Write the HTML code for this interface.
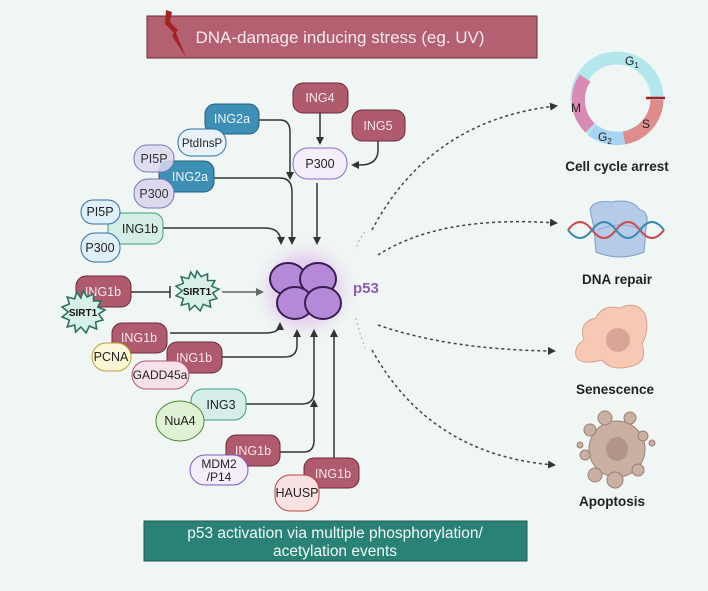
<!DOCTYPE html>
<html><head><meta charset="utf-8"><style>
html,body{margin:0;padding:0;background:#eff6f3;}
svg{display:block;font-family:"Liberation Sans",sans-serif;}
</style></head><body>
<svg width="708" height="591" viewBox="0 0 708 591" xmlns="http://www.w3.org/2000/svg">
<defs>
<radialGradient id="glow" cx="0.5" cy="0.5" r="0.5">
<stop offset="0" stop-color="#c98be0" stop-opacity="0.8"/>
<stop offset="0.6" stop-color="#dcb3ea" stop-opacity="0.45"/>
<stop offset="1" stop-color="#eff6f3" stop-opacity="0"/>
</radialGradient>
<marker id="ah" markerWidth="8" markerHeight="8" refX="6" refY="4" orient="auto" markerUnits="userSpaceOnUse">
<path d="M0,0 L8,4 L0,8 Z" fill="#333"/></marker>
<marker id="ahg" markerWidth="8" markerHeight="8" refX="6" refY="4" orient="auto" markerUnits="userSpaceOnUse">
<path d="M0,0 L8,4 L0,8 Z" fill="#666"/></marker>
</defs>
<rect width="708" height="591" fill="#eff6f3"/>

<rect x="147" y="16" width="390" height="42" fill="#b36071" stroke="#6d2a38" stroke-width="1"/>
<text x="340" y="43" font-size="17" fill="#f6e9ec" text-anchor="middle">DNA-damage inducing stress (eg. UV)</text>
<path d="M166,10 L172,12 L170,22 L178,30 L176,33 L186,57 L172,36 L174,33 L165,24 Z" fill="#a52222"/>

<circle cx="305" cy="290" r="55" fill="url(#glow)"/>

<g fill="none" stroke="#333" stroke-width="1.5">
<path d="M320,113 V143" marker-end="url(#ah)"/>
<path d="M378,141 V150 Q378,165 360,165 H353" marker-end="url(#ah)"/>
<path d="M259,120 H280 Q290,120 290,132 V178" marker-end="url(#ah)"/>
<path d="M214,178 H280 Q292,178 292,192 V243" marker-end="url(#ah)"/>
<path d="M317,183 V243" marker-end="url(#ah)"/>
<path d="M163,228 H265 Q281,228 281,243" marker-end="url(#ah)"/>
<path d="M131,292 H170"/><path d="M170,286 V298"/>
<path d="M170,333 H265 Q280,333 280,324" marker-end="url(#ah)"/>
<path d="M222,357 H285 Q297,357 297,345 V331" marker-end="url(#ah)"/>
<path d="M246,404 H302 Q314,404 314,392 V331" marker-end="url(#ah)"/>
<path d="M280,452 H304 Q314,452 314,440 V401" marker-end="url(#ah)"/>
<path d="M334,458 V331" marker-end="url(#ah)"/>
</g>
<path d="M222,292 H262" stroke="#666" stroke-width="1.5" fill="none" marker-end="url(#ahg)"/>

<g fill="none" stroke="#444" stroke-width="1.5" stroke-dasharray="3,3">
<path d="M372,230 Q430,120 556,106" marker-end="url(#ah)"/>
<path d="M378,255 Q440,215 556,223" marker-end="url(#ah)"/>
<path d="M378,325 Q450,350 554,351" marker-end="url(#ah)"/>
<path d="M372,350 Q430,455 554,465" marker-end="url(#ah)"/>
</g>
<g fill="none" stroke="#aaa" stroke-width="1" stroke-dasharray="2,3">
<path d="M365,232 Q358,240 356,250"/><path d="M356,318 Q360,335 365,348"/>
</g>

<g fill="#b48ad8" stroke="#3a1d52" stroke-width="2">
<ellipse cx="288" cy="279" rx="18" ry="16"/>
<ellipse cx="318" cy="279" rx="18" ry="16"/>
<ellipse cx="295" cy="303" rx="18" ry="16"/>
<ellipse cx="323" cy="303" rx="18" ry="16"/>
</g>
<text x="353" y="293" font-size="15" font-weight="bold" fill="#8e5cb5">p53</text>

<g font-size="12.5" text-anchor="middle">
<rect x="293" y="83" width="55" height="30" rx="10" fill="#b05a6e" stroke="#6d2a38"/>
<text x="320" y="102" fill="#f6e6ea">ING4</text>
<rect x="352" y="110" width="53" height="31" rx="10" fill="#b05a6e" stroke="#6d2a38"/>
<text x="378" y="130" fill="#f6e6ea">ING5</text>
<rect x="293" y="148" width="54" height="31" rx="15" fill="#f4eefb" stroke="#8d6bbd"/>
<text x="320" y="168" fill="#222">P300</text>

<rect x="205" y="104" width="54" height="30" rx="10" fill="#3e8fb5" stroke="#245f7e"/>
<text x="232" y="123" fill="#eaf4fa">ING2a</text>
<rect x="178" y="129" width="48" height="27" rx="13" fill="#e7f2fb" stroke="#2f6fa0"/>
<text x="202" y="147" fill="#222" font-size="11.5">PtdInsP</text>

<rect x="159" y="161" width="55" height="31" rx="10" fill="#3e8fb5" stroke="#245f7e"/>
<rect x="134" y="145" width="40" height="27" rx="13" fill="#dcd8ee" fill-opacity="0.85" stroke="#7d76b5"/>
<text x="154" y="163" fill="#333">PI5P</text>
<text x="190" y="181" fill="#eaf4fa">ING2a</text>
<rect x="134" y="179" width="40" height="29" rx="14" fill="#dcd8ee" stroke="#7d76b5"/>
<text x="154" y="198" fill="#333">P300</text>

<rect x="108" y="213" width="55" height="31" rx="10" fill="#d4ede6" stroke="#3f9c7f"/>
<text x="140" y="233" fill="#222">ING1b</text>
<rect x="81" y="200" width="39" height="24" rx="12" fill="#e0f0f9" stroke="#2f6fa0"/>
<text x="100" y="216" fill="#222">PI5P</text>
<rect x="81" y="233" width="39" height="29" rx="14" fill="#e0f0f9" stroke="#2f6fa0"/>
<text x="100" y="252" fill="#222">P300</text>

<rect x="76" y="276" width="55" height="31" rx="10" fill="#b05a6e" stroke="#6d2a38"/>
<text x="103" y="296" fill="#f6e6ea">ING1b</text>

<rect x="112" y="323" width="55" height="30" rx="10" fill="#b05a6e" stroke="#6d2a38"/>
<text x="139" y="342" fill="#f6e6ea">ING1b</text>
<rect x="92" y="343" width="39" height="28" rx="14" fill="#fbf6d6" stroke="#b8a33a"/>
<text x="111" y="361" fill="#222">PCNA</text>
<rect x="167" y="342" width="55" height="31" rx="10" fill="#b05a6e" stroke="#6d2a38"/>
<text x="194" y="362" fill="#f6e6ea">ING1b</text>
<rect x="132" y="361" width="57" height="28" rx="14" fill="#f7e1ea" stroke="#b0577a"/>
<text x="160" y="379" fill="#222" font-size="12">GADD45a</text>

<rect x="191" y="389" width="55" height="31" rx="12" fill="#d6eeea" stroke="#3f9c88"/>
<text x="221" y="409" fill="#222">ING3</text>
<ellipse cx="180" cy="421" rx="24" ry="20" fill="#dff2d6" stroke="#4c8a2f"/>
<text x="180" y="425" fill="#222">NuA4</text>

<rect x="226" y="435" width="54" height="31" rx="10" fill="#b05a6e" stroke="#6d2a38"/>
<text x="253" y="455" fill="#f6e6ea">ING1b</text>
<rect x="190" y="455" width="58" height="30" rx="15" fill="#f2ecfb" stroke="#7a5cb5"/>
<text x="219" y="468" fill="#222" font-size="12">MDM2</text>
<text x="219" y="481" fill="#222" font-size="12">/P14</text>

<rect x="304" y="458" width="55" height="30" rx="10" fill="#b05a6e" stroke="#6d2a38"/>
<text x="333" y="478" fill="#f6e6ea">ING1b</text>
<rect x="275" y="475" width="44" height="36" rx="15" fill="#fbe2e2" stroke="#b84444"/>
<text x="297" y="497" fill="#222">HAUSP</text>
</g>

<g stroke="#2a6f5e" stroke-width="1.5" fill="#d8f0ea">
<polygon points="0,-21 4,-15 10,-18 10,-11 17,-11 14,-5 21,-2 15,2 19,8 12,10 13,17 6,14 3,21 -2,15 -7,20 -8,13 -15,15 -13,8 -20,5 -14,0 -20,-5 -13,-8 -15,-15 -8,-13 -6,-20 -2,-14" transform="translate(83,312) scale(1.05,1)"/>
<polygon points="0,-21 4,-15 10,-18 10,-11 17,-11 14,-5 21,-2 15,2 19,8 12,10 13,17 6,14 3,21 -2,15 -7,20 -8,13 -15,15 -13,8 -20,5 -14,0 -20,-5 -13,-8 -15,-15 -8,-13 -6,-20 -2,-14" transform="translate(197,291) scale(1.05,0.95)"/>
</g>
<text x="83" y="316" font-size="10" font-weight="bold" text-anchor="middle" fill="#111">SIRT1</text>
<text x="197" y="295" font-size="10" font-weight="bold" text-anchor="middle" fill="#111">SIRT1</text>

<rect x="144" y="521" width="383" height="40" fill="#2a8276" stroke="#1d5a52"/>
<text x="335" y="538" font-size="15.5" fill="#f0f8f6" text-anchor="middle">p53 activation via multiple phosphorylation/</text>
<text x="335" y="556" font-size="15.5" fill="#f0f8f6" text-anchor="middle">acetylation events</text>

<g>
<circle cx="617" cy="98" r="40" fill="none" stroke="#b4e6ee" stroke-width="13"/>
<path d="M657,100 A40,40 0 0 1 624,138" fill="none" stroke="#e08c8c" stroke-width="13"/>
<path d="M624,138 A40,40 0 0 1 592,130" fill="none" stroke="#a8d4f4" stroke-width="13"/>
<path d="M590,128 A40,40 0 0 1 585,78" fill="none" stroke="#d98bb4" stroke-width="13"/>
<path d="M646,98 H665" stroke="#a82020" stroke-width="2.5"/>
<text x="625" y="65" font-size="12" fill="#222">G<tspan font-size="8" dy="3">1</tspan></text>
<text x="571" y="112" font-size="12" fill="#222">M</text>
<text x="642" y="128" font-size="12" fill="#222">S</text>
<text x="598" y="141" font-size="12" fill="#222">G<tspan font-size="8" dy="3">2</tspan></text>
</g>
<text x="617" y="171" font-size="13.5" font-weight="bold" text-anchor="middle" fill="#222">Cell cycle arrest</text>

<g>
<path d="M590,210 Q592,200 612,202 Q632,198 640,210 Q650,212 646,228 L644,252 Q620,262 596,252 L594,228 Z" fill="#b4cce8" stroke="#7e9ccc"/>
<path d="M598,230 Q620,220 642,230" fill="none" stroke="#8aa6d0"/>
<path d="M568,230 Q580,214 592,230 T616,230 T640,230 T664,230" fill="none" stroke="#d04a4a" stroke-width="2"/>
<path d="M568,230 Q580,246 592,230 T616,230 T640,230 T664,230" fill="none" stroke="#3a8ab0" stroke-width="2"/>
</g>
<text x="617" y="284" font-size="13.5" font-weight="bold" text-anchor="middle" fill="#222">DNA repair</text>

<path d="M584,340 Q578,322 596,318 Q602,304 620,308 Q636,300 645,314 Q650,330 642,344 Q648,362 632,366 Q612,372 602,360 Q580,366 576,356 Q574,346 584,340 Z" fill="#f7c9b4" stroke="#d9a08c"/>
<ellipse cx="618" cy="340" rx="12" ry="12" fill="#d9a596"/>
<text x="615" y="394" font-size="13.5" font-weight="bold" text-anchor="middle" fill="#222">Senescence</text>

<g fill="#c9b0a3" stroke="#9c8275">
<circle cx="617" cy="449" r="28"/>
<circle cx="605" cy="418" r="7"/><circle cx="630" cy="418" r="6"/><circle cx="643" cy="436" r="5"/>
<circle cx="590" cy="430" r="6"/><circle cx="585" cy="455" r="5"/><circle cx="595" cy="475" r="7"/>
<circle cx="615" cy="480" r="8"/><circle cx="638" cy="470" r="6"/><circle cx="652" cy="443" r="3"/><circle cx="580" cy="445" r="3"/>
</g>
<ellipse cx="617" cy="449" rx="11" ry="12" fill="#b29589"/>
<text x="612" y="506" font-size="13.5" font-weight="bold" text-anchor="middle" fill="#222">Apoptosis</text>
</svg>
</body></html>
